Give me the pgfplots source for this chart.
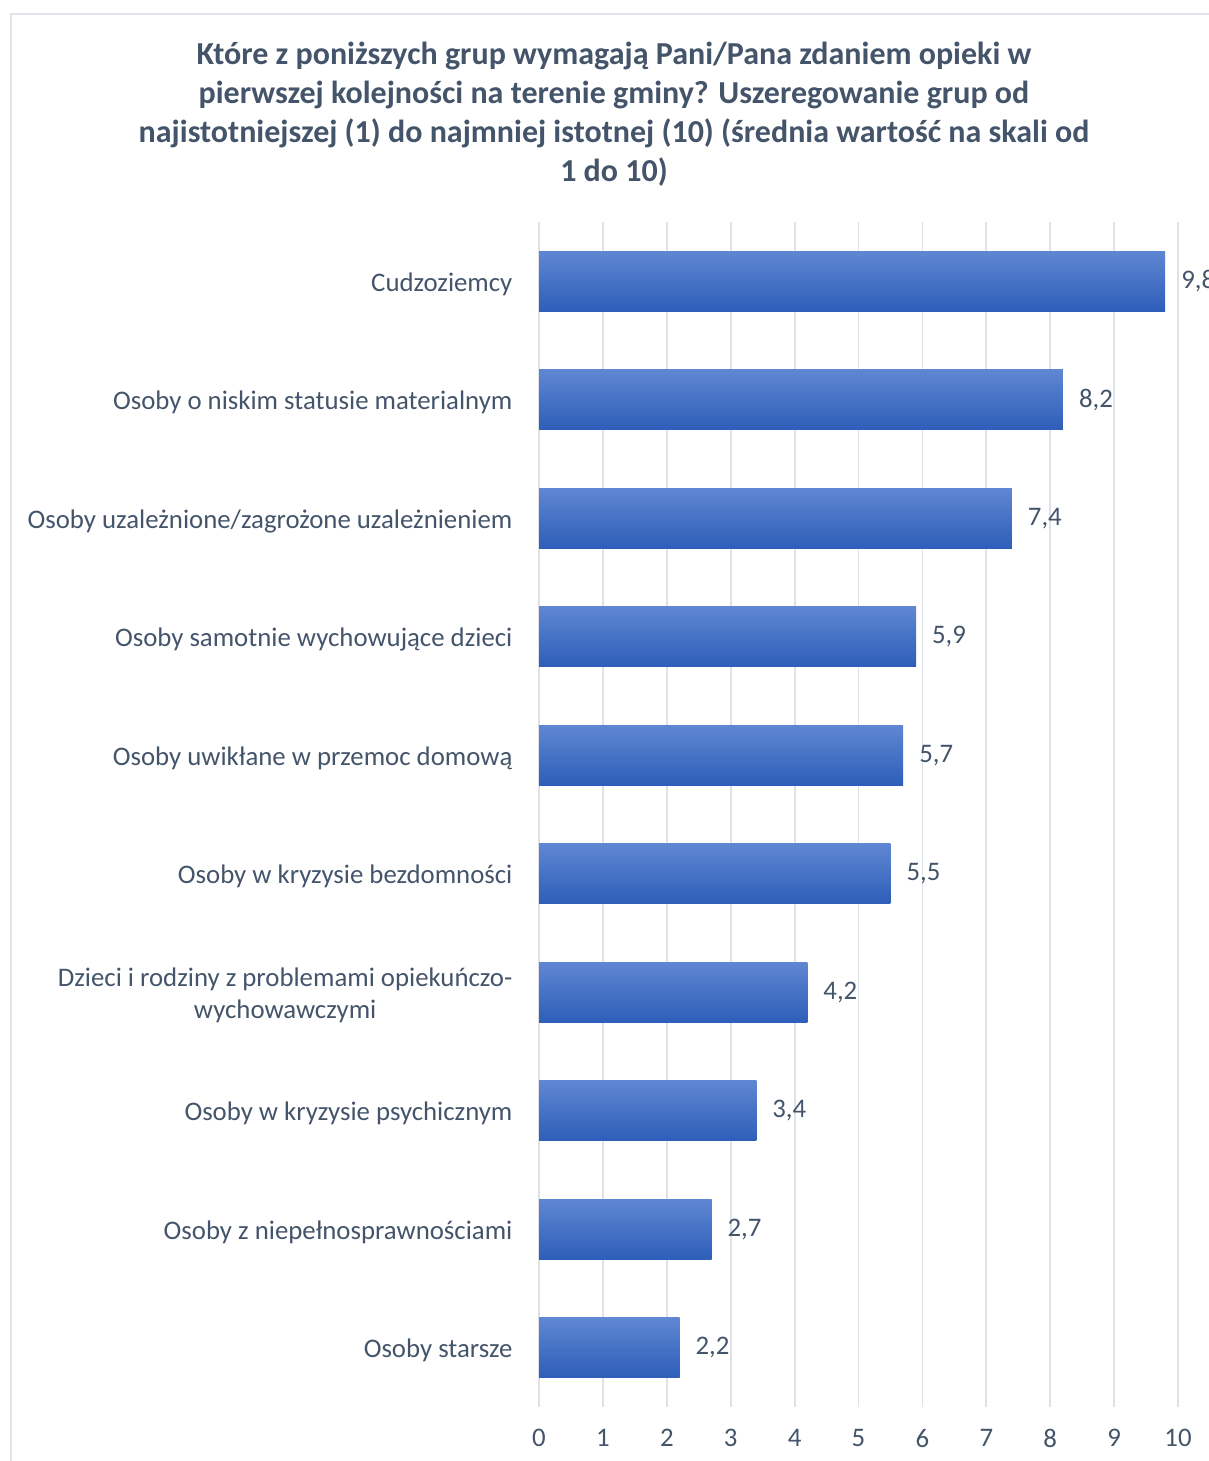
\documentclass[border=0pt]{standalone}
\usepackage{pgfplots}
\pgfplotsset{compat=1.18}
\usepackage{fontspec}
\setmainfont{Carlito}
\definecolor{txt}{HTML}{44546A}
\definecolor{grd}{HTML}{DDE2E9}
\definecolor{btop}{HTML}{5F86D2}
\definecolor{bbot}{HTML}{2E5EB9}
\definecolor{frm}{HTML}{DFE3EA}
\begin{document}
\begin{tikzpicture}
\useasboundingbox (0,0) rectangle (604.5pt,-730.5pt);
\clip (0,0) rectangle (604.5pt,-730.5pt);
\draw[frm, line width=1pt] (5.5pt,-7pt) rectangle (620pt,-740pt);
\node[txt, font=\fontsize{16}{19.5}\selectfont\bfseries, align=center] at (307pt,-57pt) {Które z poniższych grup wymagają Pani/Pana zdaniem opieki w\\ pierwszej kolejności na terenie gminy? Uszeregowanie grup od\\ najistotniejszej (1) do najmniej istotnej (10) (średnia wartość na skali od\\ 1 do 10)};
\begin{axis}[
  at={(269.5pt,-703.5pt)}, anchor=south west,
  scale only axis, width=319.5pt, height=592.5pt,
  xbar, bar width=30pt, bar shift=0pt,
  xmin=0, xmax=10, ymin=-0.5, ymax=9.5,
  xtick={0,1,...,10}, ytick={0,1,...,9},
  yticklabels={Osoby starsze, Osoby z niepełnosprawnościami, Osoby w kryzysie psychicznym, {Dzieci i rodziny z problemami opiekuńczo-\\wychowawczymi}, Osoby w kryzysie bezdomności, Osoby uwikłane w przemoc domową, Osoby samotnie wychowujące dzieci, Osoby uzależnione/zagrożone uzależnieniem, Osoby o niskim statusie materialnym, Cudzoziemcy},
  axis line style={draw=none}, major tick style={draw=none},
  xmajorgrids, major grid style={grd, line width=0.9pt},
  /pgf/number format/assume math mode=true,
  ticklabel style={txt, font=\fontsize{13.4}{16}\selectfont},
  yticklabel style={align=center, anchor=east, xshift=-5.5pt, yshift=-1.5pt},
  xticklabel style={yshift=-7.5pt},
  nodes near coords, point meta=x,
  nodes near coords style={txt, font=\fontsize{13.4}{16}\selectfont, anchor=west, xshift=4.5pt,
    /pgf/number format/.cd, use comma, fixed, fixed zerofill, precision=1, assume math mode=true},
  every axis plot/.append style={draw=none, top color=btop, bottom color=bbot},
  clip=false,
]
\addplot coordinates {(2.2,0)};
\addplot coordinates {(2.7,1)};
\addplot coordinates {(3.4,2)};
\addplot coordinates {(4.2,3)};
\addplot coordinates {(5.5,4)};
\addplot coordinates {(5.7,5)};
\addplot coordinates {(5.9,6)};
\addplot coordinates {(7.4,7)};
\addplot coordinates {(8.2,8)};
\addplot coordinates {(9.8,9)};
\end{axis}
\end{tikzpicture}
\end{document}
